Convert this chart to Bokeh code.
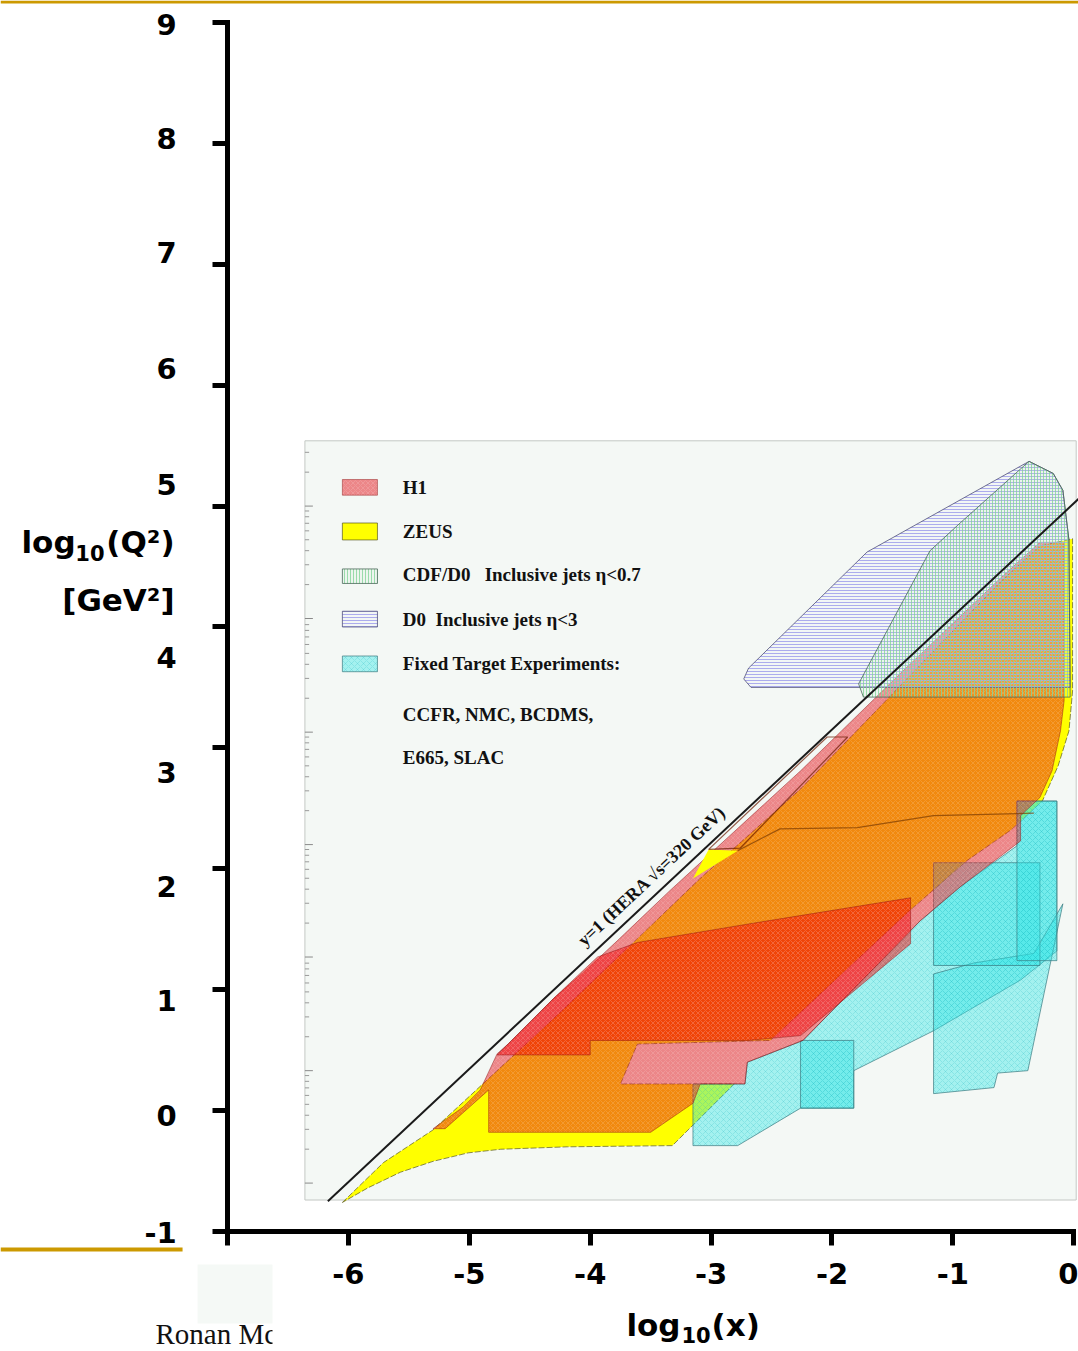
import math
from bokeh.plotting import figure
from bokeh.models import Range1d, LinearAxis, FixedTicker
from bokeh.core.properties import value
from bokeh.embed import file_html
from bokeh.resources import INLINE

# ---------------- data (log10 x , log10 Q^2) ----------------
x_ticks = [-7, -6, -5, -4, -3, -2, -1, 0]
x_tick_labels = ["", "-6", "-5", "-4", "-3", "-2", "-1", "0"]
y_ticks = [-1, 0, 1, 2, 3, 4, 5, 6, 7, 8, 9]
y_tick_labels = ["-1", "0", "1", "2", "3", "4", "5", "6", "7", "8", "9"]

# HERA kinematic limit y=1
hera_x = [-6.17, 0.04]
hera_y = [-0.75, 5.06]

# ZEUS region
zeus_x = [-6.05, -5.71, -5.30, -4.25, -3.09, -2.26, -1.43, -0.61, -0.28, -0.01, -0.01, -0.04,
          -0.13, -0.26, -0.52, -0.88, -1.19, -1.35, -2.51, -3.61, -3.75, -2.81, -3.32, -4.19,
          -4.74, -5.01, -5.30, -5.57, -5.84]
zeus_y = [-0.76, -0.43, -0.16, 0.81, 1.92, 2.66, 3.52, 4.37, 4.67, 4.73, 3.47, 3.14,
          2.85, 2.56, 2.32, 2.07, 1.80, 1.66, 0.58, 0.55, 0.22, 0.22, -0.29, -0.30,
          -0.32, -0.35, -0.42, -0.51, -0.64]
zeus_gap_x = [-3.15, -3.02, -2.78]
zeus_gap_y = [1.92, 2.16, 2.15]

# H1 regions
h1_x = [-5.30, -5.05, -4.91, -4.77, -4.68, -4.30, -4.06, -3.77, -3.34, -2.26, -1.43, -0.61,
        -0.28, -0.08, -0.08, -0.11, -0.18, -0.28, -0.44, -0.44, -0.94, -1.27, -2.24, -2.70,
        -2.72, -3.09, -3.15, -3.50, -4.84, -4.84, -5.20]
h1_y = [-0.15, 0.03, 0.17, 0.47, 0.55, 0.93, 1.14, 1.41, 1.82, 2.81, 3.62, 4.40,
        4.70, 4.70, 3.39, 3.14, 2.81, 2.59, 2.44, 2.23, 1.85, 1.57, 0.58, 0.40,
        0.22, 0.22, 0.06, -0.18, -0.18, 0.17, -0.15]
h1_core_x = [-4.77, -4.30, -3.94, -3.61, -2.65, -1.35, -1.35, -2.26, -2.70, -4.00, -4.00]
h1_core_y = [0.46, 0.93, 1.27, 1.39, 1.55, 1.76, 1.38, 0.62, 0.58, 0.58, 0.46]
h1_strip_x = [-3.02, -2.04, -1.87, -2.76]
h1_strip_y = [2.16, 3.09, 3.09, 2.17]
h1_edge_x = [-2.78, -2.43, -1.79, -1.16, -0.33]
h1_edge_y = [2.15, 2.33, 2.34, 2.44, 2.46]

# Tevatron jets
d0_x = [-2.73, -2.69, -1.71, -0.37, -0.17, -0.09, -0.04, -0.03, -2.67]
d0_y = [3.57, 3.66, 4.62, 5.37, 5.27, 5.13, 4.72, 3.50, 3.50]
cdf_x = [-1.78, -1.19, -0.94, -0.37, -0.17, -0.09, -0.04, -0.03, -1.74]
cdf_y = [3.53, 4.63, 4.86, 5.37, 5.27, 5.13, 4.72, 3.42, 3.42]

# Fixed target experiments
ft_xs = [
    [-3.15, -3.15, -2.78, -2.26, -1.82, -1.82, -1.16, -0.44, -0.14, -0.14, -0.47, -0.47,
     -0.94, -1.27, -2.24, -2.70, -2.72],
    [-1.16, -1.16, -0.66, -0.63, -0.38, -0.09, -0.33, -0.83],
    [-1.16, -0.28, -0.28, -1.16],
    [-0.47, -0.14, -0.14, -0.47],
    [-2.26, -1.82, -1.82, -2.26],
]
ft_ys = [
    [0.22, -0.29, -0.29, 0.02, 0.02, 0.33, 0.66, 1.08, 1.32, 2.56, 2.56, 2.19,
     1.85, 1.57, 0.58, 0.40, 0.22],
    [1.13, 0.14, 0.19, 0.31, 0.33, 1.71, 1.30, 1.22],
    [2.05, 2.05, 1.20, 1.20],
    [2.56, 2.56, 1.24, 1.24],
    [0.58, 0.58, 0.02, 0.02],
]

# inset frame and its own (log) ticks
inset_left, inset_right, inset_bottom, inset_top = -6.36, 0.02, -0.74, 5.54
inset_major_y = [-0.60, 0.33, 1.27, 2.20, 3.13, 4.07, 5.00]
inset_decade = 0.932

legend_keys = ["h1", "zeus", "cdf", "d0", "ft"]
legend_labels = ["H1", "ZEUS", "CDF/D0\u00a0\u00a0 Inclusive jets \u03b7<0.7",
                 "D0\u00a0 Inclusive jets \u03b7<3", "Fixed Target Experiments:"]
legend_extra = ["CCFR, NMC, BCDMS,", "E665, SLAC"]

# ---------------- layout positions (not data) ----------------
legend_top = [5.22, 4.86, 4.48, 4.13, 3.76]
legend_bottom = [5.09, 4.72, 4.36, 4.00, 3.63]
legend_text_y = [5.15, 4.79, 4.43, 4.06, 3.70]
legend_extra_y = [3.28, 2.92]
# the slide spreads the y tick labels evenly around the axis title
y_label_pos = [-1.01, -0.04, 0.91, 1.85, 2.80, 3.75, 5.18, 6.14, 7.10, 8.04, 8.98]

# ---------------- styles ----------------
STY = {
    "h1": dict(fill_color="#e3141c", fill_alpha=0.5, line_color="#8a1010", line_alpha=0.45,
               line_width=1, hatch_pattern="diagonal_cross", hatch_color="white",
               hatch_alpha=0.18, hatch_scale=5, hatch_weight=0.8),
    "zeus": dict(fill_color="#ffff00", fill_alpha=1.0, line_color="#5a5a20", line_alpha=0.7,
                 line_width=1, line_dash="6 2"),
    "cdf": dict(fill_color="#bfe8c8", fill_alpha=0.12, line_color="#4a6a5a", line_alpha=0.8,
                line_width=1, hatch_pattern="vertical_line", hatch_color="#86d49a",
                hatch_alpha=0.8, hatch_scale=3, hatch_weight=1),
    "d0": dict(fill_color="#eeeefa", fill_alpha=0.15, line_color="#50507a", line_alpha=0.8,
               line_width=1, hatch_pattern="horizontal_line", hatch_color="#a4a4ec",
               hatch_alpha=0.9, hatch_scale=3, hatch_weight=1),
    "ft": dict(fill_color="#2ee6e6", fill_alpha=0.4, line_color="#3a7a80", line_alpha=0.7,
               line_width=1, hatch_pattern="diagonal_cross", hatch_color="#1fb8c0",
               hatch_alpha=0.35, hatch_scale=6, hatch_weight=0.6),
}

X0, X1 = -8.878, 0.039
Y0, Y1 = -1.993, 9.182

p = figure(width=1078, height=1351, x_range=Range1d(X0, X1), y_range=Range1d(Y0, Y1),
           output_backend="svg", toolbar_location=None, min_border=0,
           x_axis_location=None, y_axis_location=None)
p.outline_line_color = None
p.background_fill_color = "white"
p.border_fill_color = "white"
p.grid.visible = False

# slide decorations
p.quad(left=X0, right=X1, bottom=9.157, top=Y1, fill_color="#cc9900", line_color=None)
p.quad(left=X0, right=-7.372, bottom=-1.165, top=-1.132, fill_color="#cc9900", line_color=None)
p.quad(left=-7.248, right=-6.628, bottom=-1.761, top=-1.273, fill_color="#f5f9f6", line_color=None)
p.text(x=[-7.596], y=[-1.848], text=["Ronan Mc"], text_font=value("Liberation Serif"),
       text_font_size="29px", text_color="#111111", text_baseline="middle", text_align="left")
p.quad(left=-6.628, right=-6.30, bottom=Y0, top=-1.775, fill_color="white", line_color=None)

# inset background
p.quad(left=inset_left, right=inset_right, bottom=inset_bottom, top=inset_top,
       fill_color="#f4f8f5", line_color="#c4c8c4", line_width=1)

# inset ticks
p.segment(x0=[inset_left] * len(inset_major_y), y0=inset_major_y,
          x1=[inset_left + 0.066] * len(inset_major_y), y1=inset_major_y,
          line_color="#8a8a8a", line_width=1)
minor_y = []
for yb in inset_major_y:
    for k in range(2, 10):
        yy = yb + inset_decade * math.log10(k)
        if inset_bottom < yy < inset_top:
            minor_y.append(yy)
p.segment(x0=[inset_left] * len(minor_y), y0=minor_y, x1=[inset_left + 0.035] * len(minor_y),
          y1=minor_y, line_color="#9a9a9a", line_width=1)

# regions
p.patch(zeus_x, zeus_y, **STY["zeus"])
p.patches(ft_xs, ft_ys, **STY["ft"])
p.patch(h1_x, h1_y, **STY["h1"])
core = dict(STY["h1"])
core.update(fill_color="#f00000", fill_alpha=0.5)
p.patch(h1_core_x, h1_core_y, **core)
p.patch(zeus_gap_x, zeus_gap_y, fill_color="#ffff00", line_color=None)
p.patch(h1_strip_x, h1_strip_y, fill_color=None, line_color="#6a1a00", line_alpha=0.7, line_width=1.2)
p.line(h1_edge_x, h1_edge_y, line_color="#7a3a00", line_alpha=0.7, line_width=1.2)
p.patch(d0_x, d0_y, **STY["d0"])
p.patch(cdf_x, cdf_y, **STY["cdf"])

# HERA line
p.line(hera_x, hera_y, line_color="#1a1a1a", line_width=2)
p.text(x=[-4.08], y=[1.39], text=["y=1 (HERA \u221as=320 GeV)"], angle=0.752,
       text_font=value("Liberation Serif"), text_font_style="bold", text_font_size="18px",
       text_color="#111111", text_align="left", text_baseline="alphabetic")

# legend
for key, lab, t, b, ty in zip(legend_keys, legend_labels, legend_top, legend_bottom, legend_text_y):
    sw = dict(STY[key])
    sw["line_dash"] = "solid"
    p.quad(left=-6.05, right=-5.76, bottom=b, top=t, **sw)
    p.text(x=[-5.55], y=[ty], text=[lab], text_font=value("Liberation Serif"),
           text_font_style="bold", text_font_size="19px", text_color="#111111",
           text_baseline="middle", text_align="left")
p.text(x=[-5.55] * len(legend_extra), y=legend_extra_y, text=legend_extra,
       text_font=value("Liberation Serif"), text_font_style="bold", text_font_size="19px",
       text_color="#111111", text_baseline="middle", text_align="left")

# axes
axis_style = dict(axis_line_width=5, axis_line_color="black", axis_line_cap="square",
                  major_tick_line_width=5, major_tick_line_color="black",
                  major_tick_in=0, minor_tick_in=0, minor_tick_out=0,
                  major_label_text_font="DejaVu Sans", major_label_text_font_style="bold",
                  major_label_text_font_size="29px", major_label_text_color="black")
yax = LinearAxis(fixed_location=-7, bounds=(-1, 9), ticker=FixedTicker(ticks=y_ticks),
                 major_label_overrides={t: "" for t in y_ticks},
                 major_tick_out=15, major_label_standoff=36, **axis_style)
p.add_layout(yax, "left")
xax = LinearAxis(fixed_location=-1, bounds=(-7, 0), ticker=FixedTicker(ticks=x_ticks),
                 major_label_overrides={t: l for t, l in zip(x_ticks, x_tick_labels)},
                 major_tick_out=14, major_label_standoff=18, **axis_style)
p.add_layout(xax, "below")

# y tick labels, as placed on the slide
p.text(x=[-7.42] * len(y_tick_labels), y=y_label_pos, text=y_tick_labels,
       text_font=value("DejaVu Sans"), text_font_style="bold", text_font_size="29px",
       text_color="black", text_align="right", text_baseline="middle")

# axis titles (subscript drawn smaller and lower)
bold = dict(text_font=value("DejaVu Sans"), text_font_style="bold", text_color="black",
            text_baseline="middle")
p.text(x=[-8.257], y=[4.70], text=["log"], text_font_size="31px", text_align="right", **bold)
p.text(x=[-8.017], y=[4.615], text=["10"], text_font_size="21px", text_align="right", **bold)
p.text(x=[-7.438], y=[4.70], text=["(Q\u00b2)"], text_font_size="31px", text_align="right", **bold)
p.text(x=[-7.438], y=[4.22], text=["[GeV\u00b2]"], text_font_size="31px", text_align="right", **bold)
p.text(x=[-3.253], y=[-1.775], text=["log"], text_font_size="31px", text_align="right", **bold)
p.text(x=[-3.245], y=[-1.86], text=["10"], text_font_size="21px", text_align="left", **bold)
p.text(x=[-2.997], y=[-1.775], text=["(x)"], text_font_size="31px", text_align="left", **bold)

open("out.html", "w").write(file_html(p, INLINE))
